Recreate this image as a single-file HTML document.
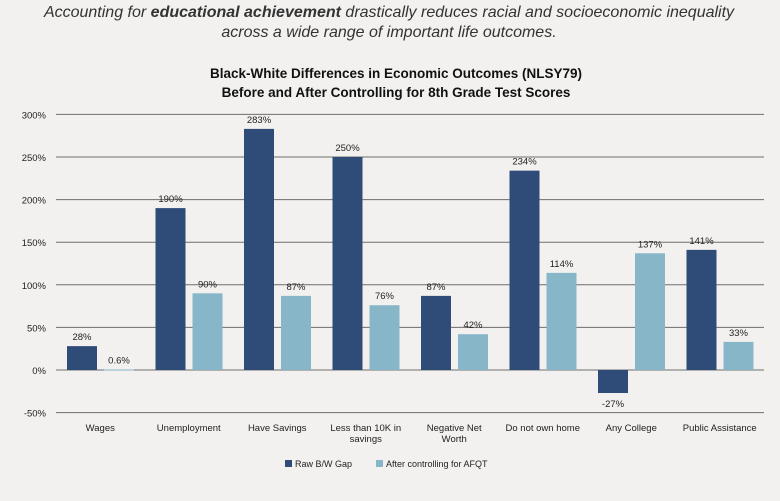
<!DOCTYPE html>
<html><head><meta charset="utf-8"><style>
body{margin:0;background:#f2f1ef;}
svg text{font-family:"Liberation Sans",sans-serif;}
</style></head><body>
<svg width="780" height="496" viewBox="0 0 780 496">
<rect width="780" height="496" fill="#f2f1ef"/>
<text x="389" y="17" text-anchor="middle" font-size="16" font-style="italic" fill="#333">Accounting for <tspan font-weight="bold">educational achievement</tspan> drastically reduces racial and socioeconomic inequality</text>
<text x="389" y="37" text-anchor="middle" font-size="16" font-style="italic" fill="#333">across a wide range of important life outcomes.</text>
<text x="396" y="78" text-anchor="middle" font-size="13.5" font-weight="bold" fill="#111">Black-White Differences in Economic Outcomes (NLSY79)</text>
<text x="396" y="97" text-anchor="middle" font-size="13.5" font-weight="bold" fill="#111">Before and After Controlling for 8th Grade Test Scores</text>
<g id="grid"></g><g id="bars"></g><g id="labels"></g>
<g>
<rect x="285" y="460" width="7" height="7" fill="#2f4b77"/>
<text x="295" y="467" font-size="9" fill="#222">Raw B/W Gap</text>
<rect x="376" y="460" width="7" height="7" fill="#86b6c8"/>
<text x="386" y="467" font-size="9" fill="#222">After controlling for AFQT</text>
</g>
</svg>
<script>
const categories=[["Wages"],["Unemployment"],["Have Savings"],["Less than 10K in","savings"],["Negative Net","Worth"],["Do not own home"],["Any College"],["Public Assistance"]];
const rawGap=[28,190,283,250,87,234,-27,141];
const afterAfqt=[0.6,90,87,76,42,114,137,33];
const rawLabels=["28%","190%","283%","250%","87%","234%","-27%","141%"];
const afterLabels=["0.6%","90%","87%","76%","42%","114%","137%","33%"];
const ticks=[300,250,200,150,100,50,0,-50];
const NS="http://www.w3.org/2000/svg";
const L=56,R=764,bw=(R-L)/categories.length;
const y=v=>370-v*42.6/50;
function mk(t,a,p){const e=document.createElementNS(NS,t);for(const k in a)e.setAttribute(k,a[k]);p.appendChild(e);return e;}
const grid=document.getElementById('grid'),bars=document.getElementById('bars'),lab=document.getElementById('labels');
ticks.forEach(t=>{
 const l=mk('line',{x1:L,x2:R,y1:y(t),y2:y(t),stroke:'#6e6e6e','stroke-width':1},grid);
 
 
 const tx=mk('text',{x:46,y:y(t)+4,'text-anchor':'end','font-size':9.5,fill:'#222'},grid);
 tx.textContent=t+'%';
 
 
});
categories.forEach((c,i)=>{
 const x0=L+i*bw;
 [[rawGap[i],rawLabels[i],11,'#2f4b77','raw'],[afterAfqt[i],afterLabels[i],48,'#86b6c8','afqt']].forEach(([v,s,off,col,nm])=>{
  const top=Math.min(y(v),y(0)),h=Math.max(Math.abs(y(v)-y(0)),1);
  const r=mk('rect',{x:x0+off,y:top,width:30,height:h,fill:col},bars);
  
  
  const t=mk('text',{x:x0+off+15,y:v>=0?y(v)-6:y(v)+14,'text-anchor':'middle','font-size':9.5,fill:'#222'},lab);
  t.textContent=s;
  
  
 });
 c.forEach((line,j)=>{
  const t=mk('text',{x:x0+bw/2,y:431+j*11,'text-anchor':'middle','font-size':9.5,fill:'#222'},lab);
  t.textContent=line;
  
  
 });
});
</script>
</body></html>
